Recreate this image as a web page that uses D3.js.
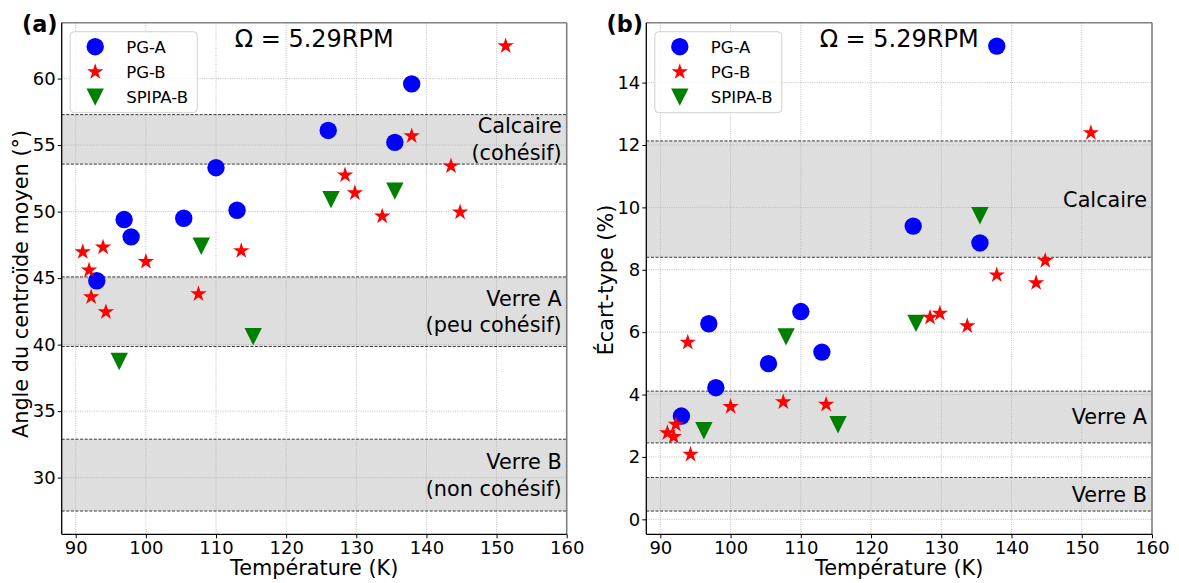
<!DOCTYPE html>
<html><head><meta charset="utf-8">
<script src="https://cdn.jsdelivr.net/npm/d3@7"></script>
<style>
body{margin:0;background:#fff}
svg{display:block}
text{font-family:"DejaVu Sans",sans-serif;fill:#000}
</style>
</head><body>
<svg id="chart" width="1179" height="583"></svg>
<script>
// ---------- data ----------
const seriesNames = ["PG-A", "PG-B", "SPIPA-B"];
const seriesColors = ["blue", "red", "green"];
const seriesShapes = ["circle", "star", "triangleDown"];

const tempPGA  = [93.0, 96.9, 97.9, 105.4, 110.0, 113.0, 126.0, 135.5, 137.9];
const anglePGA = [44.8, 49.4, 48.1, 49.5, 53.3, 50.1, 56.1, 55.2, 59.6];
const stdPGA   = [3.31, 6.27, 4.22, 4.99, 6.66, 5.36, 9.40, 8.86, 15.17];

const tempPGB  = [91.0, 91.9, 92.2, 93.9, 94.3, 100.0, 107.5, 113.6, 128.4, 129.8, 133.7, 137.9, 143.5, 144.8, 151.3];
const anglePGB = [46.97, 45.59, 43.58, 47.32, 42.45, 46.24, 43.81, 47.05, 52.74, 51.40, 49.65, 55.68, 53.42, 49.95, 62.45];
const stdPGB   = [2.77, 2.65, 3.04, 5.67, 2.08, 3.61, 3.76, 3.68, 6.47, 6.60, 6.20, 7.83, 7.58, 8.29, 12.39];

const tempSPIPA  = [96.2, 107.9, 115.3, 126.4, 135.5];
const angleSPIPA = [38.73, 47.4, 40.6, 50.9, 51.54];
const stdSPIPA   = [2.84, 5.85, 3.03, 6.28, 9.73];

const xDomain = [88, 160];
const xTicks = [90, 100, 110, 120, 130, 140, 150, 160];
const yDomainA = [25.74, 64.2];
const yTicksA = [30, 35, 40, 45, 50, 55, 60];
const yDomainB = [-0.48, 15.92];
const yTicksB = [0, 2, 4, 6, 8, 10, 12, 14];

const bandsA = [[53.57, 57.29], [39.86, 45.09], [27.49, 32.89]];
const bandLabelsA = [["Calcaire", "(cohésif)"], ["Verre A", "(peu cohésif)"], ["Verre B", "(non cohésif)"]];
const bandsB = [[8.40, 12.13], [2.45, 4.11], [0.265, 1.34]];
const bandLabelsB = [["Calcaire"], ["Verre A"], ["Verre B"]];

const xLabel = "Température (K)";
const yLabelA = "Angle du centroïde moyen (°)";
const yLabelB = "Écart-type (%)";
const omegaText = "Ω = 5.29RPM";

// ---------- drawing ----------
const svg = d3.select("#chart");

function starPath(R) {
  const r = R * 0.381966;
  const pts = [];
  for (let i = 0; i < 10; i++) {
    const rad = i % 2 === 0 ? R : r;
    const a = -Math.PI / 2 + i * Math.PI / 5;
    pts.push([rad * Math.cos(a), rad * Math.sin(a)]);
  }
  return "M" + pts.map(p => p[0].toFixed(2) + "," + p[1].toFixed(2)).join("L") + "Z";
}
function drawMarker(g, shape, color, x, y) {
  if (shape === "circle") {
    g.append("circle").attr("cx", x).attr("cy", y).attr("r", 8.7).attr("fill", color);
  } else if (shape === "star") {
    g.append("path").attr("d", starPath(8.6)).attr("transform", `translate(${x},${y})`).attr("fill", color);
  } else {
    const h = 8.7;
    g.append("path").attr("d", `M${-h},${-h}L${h},${-h}L0,${h}Z`).attr("transform", `translate(${x},${y})`).attr("fill", color);
  }
}

function drawPanel(p) {
  const g = svg.append("g");
  const x = d3.scaleLinear().domain(xDomain).range([p.left, p.right]);
  const y = d3.scaleLinear().domain(p.yDomain).range([p.bottom, p.top]);

  // bands
  p.bands.forEach(b => {
    g.append("rect").attr("x", p.left).attr("width", p.right - p.left)
      .attr("y", y(b[1])).attr("height", y(b[0]) - y(b[1])).attr("fill", "#dedede");
  });
  // grid
  const grid = g.append("g");
  xTicks.forEach(t => grid.append("line").attr("x1", x(t)).attr("x2", x(t)).attr("y1", p.top).attr("y2", p.bottom));
  p.yTicks.forEach(t => grid.append("line").attr("x1", p.left).attr("x2", p.right).attr("y1", y(t)).attr("y2", y(t)));
  grid.selectAll("line").attr("stroke", "#b0b0b0").attr("stroke-width", 0.8).attr("stroke-dasharray", "1,1.3");
  // band edges
  p.bands.forEach(b => {
    b.forEach(v => g.append("line").attr("x1", p.left).attr("x2", p.right).attr("y1", y(v)).attr("y2", y(v))
      .attr("stroke", "#000").attr("stroke-width", 0.9).attr("stroke-dasharray", "3,1.6").attr("opacity", 0.85));
  });
  // band labels
  p.bands.forEach((b, i) => {
    const lines = p.bandLabels[i];
    const cy = (y(b[0]) + y(b[1])) / 2;
    const lh = 26.7;
    const t = g.append("text").attr("text-anchor", "end").attr("font-size", 20.8);
    lines.forEach((s, k) => {
      t.append("tspan").attr("x", p.right - 5)
        .attr("y", cy + (k - (lines.length - 1) / 2) * lh + 7.4).text(s);
    });
  });
  // points
  const pts = g.append("g");
  p.series.forEach((s, si) => {
    s.t.forEach((tv, i) => drawMarker(pts, seriesShapes[si], seriesColors[si], x(tv), y(s.v[i])));
  });
  // spines
  g.append("line").attr("x1", p.left).attr("x2", p.right).attr("y1", p.top).attr("y2", p.top).attr("stroke", "#808080").attr("stroke-width", 1.6);
  g.append("line").attr("x1", p.right).attr("x2", p.right).attr("y1", p.top).attr("y2", p.bottom).attr("stroke", "#808080").attr("stroke-width", 1.6);
  // axes
  const ax = g.append("g").attr("transform", `translate(0,${p.bottom})`)
    .call(d3.axisBottom(x).tickValues(xTicks).tickFormat(d3.format("d")).tickSize(4).tickSizeOuter(0).tickPadding(3));
  const ay = g.append("g").attr("transform", `translate(${p.left},0)`)
    .call(d3.axisLeft(y).tickValues(p.yTicks).tickFormat(d3.format("d")).tickSize(4).tickSizeOuter(0).tickPadding(2));
  [ax, ay].forEach(a => {
    a.select(".domain").attr("stroke", "#000").attr("stroke-width", 1.3);
    a.selectAll(".tick line").attr("stroke", "#000").attr("stroke-width", 1);
    a.selectAll(".tick text").attr("font-size", 18).attr("font-family", "DejaVu Sans").attr("fill", "#000");
  });
  ay.select(".domain").attr("d", `M0,${p.top}V${p.bottom}`);
  ax.select(".domain").attr("d", `M${p.left},0H${p.right}`);

  // axis labels
  g.append("text").attr("x", (p.left + p.right) / 2).attr("y", 575).attr("text-anchor", "middle")
    .attr("font-size", 20.8).text(xLabel);
  g.append("text").attr("transform", `translate(${p.yLabelX},${p.yLabelY}) rotate(-90)`)
    .attr("text-anchor", "middle").attr("font-size", 20.8).text(p.yLabel);
  // omega
  g.append("text").attr("x", (p.left + p.right) / 2).attr("y", 47.3).attr("text-anchor", "middle")
    .attr("font-size", 24).text(omegaText);
  // panel letter
  g.append("text").attr("x", p.letterX).attr("y", 31.5).attr("font-size", 22.4).attr("font-weight", "bold").text(p.letter);

  // legend
  const lx = p.left + 8.5, ly = 31.7;
  const lg = g.append("g");
  lg.append("rect").attr("x", lx).attr("y", ly).attr("width", 127).attr("height", 81).attr("rx", 4)
    .attr("fill", "#fff").attr("fill-opacity", 0.8).attr("stroke", "#d0d0d0").attr("stroke-width", 1);
  seriesNames.forEach((n, i) => {
    const yy = ly + 15 + i * 25.2;
    drawMarker(lg, seriesShapes[i], seriesColors[i], lx + 25, yy);
    lg.append("text").attr("x", lx + 56).attr("y", yy + 5.8).attr("font-size", 16.5).text(n);
  });
}

drawPanel({
  left: 61.7, right: 566.7, top: 22.7, bottom: 534.3,
  yDomain: yDomainA, yTicks: yTicksA, bands: bandsA, bandLabels: bandLabelsA,
  yLabel: yLabelA, yLabelX: 28.3, yLabelY: 284, letter: "(a)", letterX: 22,
  series: [{t: tempPGA, v: anglePGA}, {t: tempPGB, v: anglePGB}, {t: tempSPIPA, v: angleSPIPA}]
});
drawPanel({
  left: 646.3, right: 1152, top: 22.7, bottom: 534.3,
  yDomain: yDomainB, yTicks: yTicksB, bands: bandsB, bandLabels: bandLabelsB,
  yLabel: yLabelB, yLabelX: 612.5, yLabelY: 280, letter: "(b)", letterX: 606.5,
  series: [{t: tempPGA, v: stdPGA}, {t: tempPGB, v: stdPGB}, {t: tempSPIPA, v: stdSPIPA}]
});
</script>
</body></html>
